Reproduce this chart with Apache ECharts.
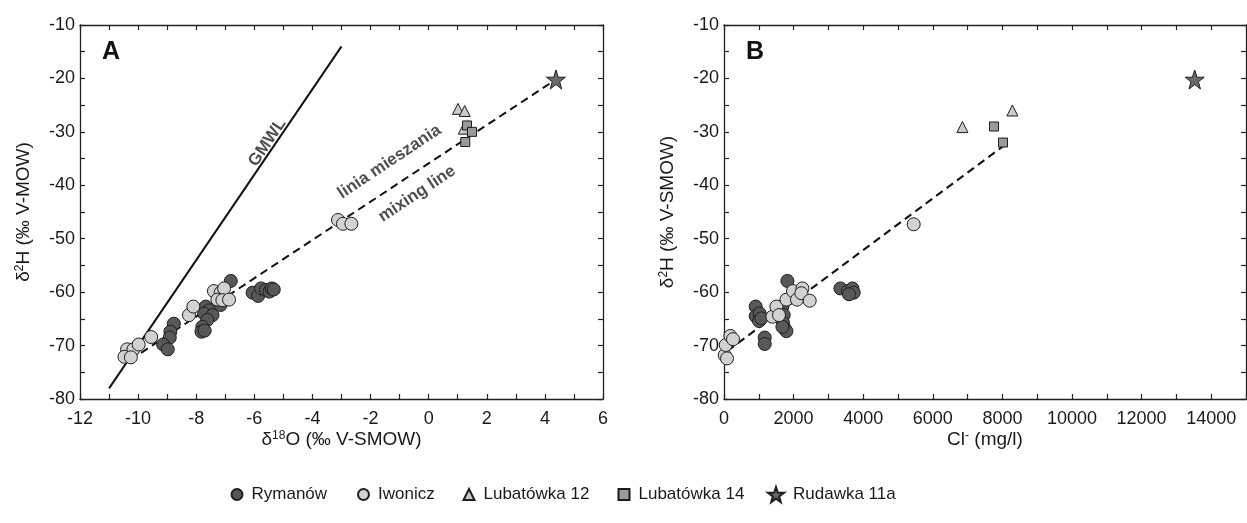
<!DOCTYPE html>
<html>
<head>
<meta charset="utf-8">
<script src="https://cdn.jsdelivr.net/npm/echarts@6/dist/echarts.min.js"></script>
<style>
html,body{margin:0;padding:0;background:#fff;}
#c{width:1247px;height:523px;}
</style>
</head>
<body>
<div id="c"></div>
<script>
// ---- data ----
const rymanowA = [[-8.77,-65.9],[-8.89,-67.4],[-8.91,-68.5],[-9.14,-69.8],[-8.98,-70.7],
  [-7.67,-62.7],[-7.56,-63.4],[-7.73,-64.0],[-7.44,-64.3],[-7.62,-65.2],[-7.79,-66.5],[-7.82,-67.4],[-7.71,-67.2],[-7.16,-62.4],[-6.81,-57.9],
  [-6.06,-60.1],[-5.87,-60.7],[-5.77,-59.3],[-5.6,-59.6],[-5.48,-59.9],[-5.4,-59.3],[-5.33,-59.5]];
const iwoniczA = [[-10.38,-70.7],[-10.16,-70.7],[-10.47,-72.1],[-10.25,-72.2],[-9.98,-69.8],[-9.55,-68.4],
  [-8.25,-64.3],[-8.1,-62.7],[-7.39,-59.8],[-7.16,-60.1],[-7.04,-59.3],[-7.27,-61.4],[-7.1,-61.5],[-6.87,-61.4],
  [-3.12,-46.5],[-2.95,-47.2],[-2.66,-47.2]];
const lub12A = [[1.01,-25.7],[1.24,-26.1],[1.21,-29.4]];
const lub14A = [[1.32,-28.8],[1.49,-30.0],[1.26,-31.9]];
const rudawkaA = [[4.38,-20.2]];
const gmwlLine = [[-11,-78],[-3,-14]];
const mixLineA = [[-10.27,-72.7],[4.38,-20.2]];

const rymanowB = [[911,-62.7],[911,-64.5],[1026,-64.0],[1006,-65.4],[1075,-64.9],[1170,-68.5],[1170,-69.7],
  [1822,-57.9],[1678,-62.7],[1716,-64.3],[1695,-65.7],[1744,-66.8],[1793,-67.3],[1678,-66.5],
  [3345,-59.3],[3563,-59.8],[3690,-59.3],[3727,-60.1],[3592,-60.4]];
const iwoniczB = [[20,-71.8],[86,-72.4],[49,-69.9],[184,-68.2],[259,-68.8],[1391,-64.6],[1506,-62.7],[1580,-64.3],
  [1793,-61.4],[1983,-59.8],[2098,-61.4],[2253,-59.3],[2224,-60.2],[2463,-61.6],[5451,-47.3]];
const lub12B = [[6851,-29.1],[8287,-26.0]];
const lub14B = [[7759,-29.0],[8017,-32.0]];
const rudawkaB = [[13526,-20.2]];
const mixLineB = [[100,-71],[8160,-32]];

const seriesNames = ['Rymanów','Iwonicz','Lubatówka 12','Lubatówka 14','Rudawka 11a'];
const xTicksA = {min:-12, max:6, step:1, labelStep:2};
const xTicksB = {min:0, max:15000, step:1000, labelStep:2000};
const yTicks = {min:-80, max:-10, step:5, labelStep:10};
const annotA = [
  {text:'GMWL', pos:[-5.55,-32.0], rot:56},
  {text:'linia mieszania', pos:[-1.35,-35.6], rot:33.6},
  {text:'mixing line', pos:[-0.4,-41.6], rot:33.6}
];

// ---- styles ----
const FONT = 'Liberation Sans, Arial, sans-serif';
const TXT = '#1a1a1a';
const styles = {
  'Rymanów': {symbol:'circle', size:13, color:'#585858'},
  'Iwonicz': {symbol:'circle', size:13, color:'#d2d2d2'},
  'Lubatówka 12': {symbol:'triangle', size:11, color:'#cacaca'},
  'Lubatówka 14': {symbol:'rect', size:9, color:'#9a9a9a'},
  'Rudawka 11a': {symbol:'path://M50,0 L61.8,35.1 L98.9,35.1 L69.1,57.3 L79.4,92.7 L50,71 L20.6,92.7 L30.9,57.3 L1.1,35.1 L38.2,35.1 Z', size:19, color:'#6a6a6a'}
};

const chart = echarts.init(document.getElementById('c'), null, {renderer:'canvas'});

const nameRich = {n:{fontFamily:FONT, fontSize:19, color:TXT}, s:{fontFamily:FONT, fontSize:12, color:TXT, verticalAlign:'top', lineHeight:12}};

function xAxisDef(gi, t, pos, showLabels, name) {
  return {
    type:'value', gridIndex:gi, position:pos, min:t.min, max:t.max, interval:t.step,
    name: name || '', nameLocation:'middle', nameGap:31, nameMoveOverlap:false,
    nameTextStyle:{fontFamily:FONT, fontSize:19, color:TXT, rich:nameRich},
    axisLine:{show:true, onZero:false, lineStyle:{color:'#222', width:1.3}},
    axisTick:{show:true, inside:true, length:5, lineStyle:{color:'#222', width:1.2}},
    splitLine:{show:false},
    axisLabel:{show:showLabels, interval:0, margin:11, fontFamily:FONT, fontSize:18, color:TXT,
      showMaxLabel:true, showMinLabel:true,
      formatter: v => Math.abs(v) % t.labelStep === 0 ? String(v) : ''}
  };
}
function yAxisDef(gi, t, pos, showLabels, name) {
  return {
    type:'value', gridIndex:gi, position:pos, min:t.min, max:t.max, interval:t.step,
    name: name || '', nameLocation:'middle', nameGap:47, nameRotate:90, nameMoveOverlap:false,
    nameTextStyle:{fontFamily:FONT, fontSize:19, color:TXT, rich:nameRich},
    axisLine:{show:true, onZero:false, lineStyle:{color:'#222', width:1.3}},
    axisTick:{show:true, inside:true, length:5, lineStyle:{color:'#222', width:1.2}},
    splitLine:{show:false},
    axisLabel:{show:showLabels, interval:0, margin:5, fontFamily:FONT, fontSize:18, color:TXT,
      formatter: v => Math.abs(v) % t.labelStep === 0 ? String(v) : ''}
  };
}

function scatter(name, data, xi, yi) {
  const s = styles[name];
  return {
    name, type:'scatter', xAxisIndex:xi, yAxisIndex:yi, data,
    symbol:s.symbol, symbolSize:s.size,
    itemStyle:{color:s.color, borderColor:'#1e1e1e', borderWidth:1, opacity:1},
    emphasis:{disabled:true}, z:3
  };
}
function lineSeries(data, xi, yi, type) {
  return {type:'line', xAxisIndex:xi, yAxisIndex:yi, data, symbol:'none', silent:true,
    lineStyle:{color:'#111', width:2, type: type === 'dashed' ? [8,5] : 'solid'}, z:2};
}
function annotSeries(a, xi, yi) {
  return {type:'scatter', xAxisIndex:xi, yAxisIndex:yi, data:[a.pos], symbolSize:0, silent:true, z:4,
    label:{show:true, position:'inside', rotate:a.rot, formatter:a.text,
      fontFamily:FONT, fontSize:17, fontWeight:'bold', color:'#222'}};
}

const legendLefts = [225.5, 352, 457.5, 612.5, 762];
const legends = seriesNames.map((n,i) => ({
  data:[n], left:legendLefts[i], top:481,
  itemWidth: n==='Rudawka 11a' ? 16 : 11, itemHeight: n==='Rudawka 11a' ? 16 : 11,
  itemGap:0, selectedMode:false,
  textStyle:{fontFamily:FONT, fontSize:17, color:TXT, padding:[0,0,0,4]}
}));

const option = {
  animation:false,
  backgroundColor:'#fff',
  grid:[
    {left:80, right:644, top:25, bottom:124, outerBoundsMode:'none'},
    {left:724, right:1, top:25, bottom:124, outerBoundsMode:'none'}
  ],
  xAxis:[
    xAxisDef(0, xTicksA, 'bottom', true, '{n|δ}{s|18}{n|O (‰ V-SMOW)}'),
    xAxisDef(0, xTicksA, 'top', false),
    xAxisDef(1, xTicksB, 'bottom', true, '{n|Cl}{s|-}{n| (mg/l)}'),
    xAxisDef(1, xTicksB, 'top', false)
  ],
  yAxis:[
    yAxisDef(0, yTicks, 'left', true, '{n|δ}{s|2}{n|H (‰ V-MOW)}'),
    yAxisDef(0, yTicks, 'right', false),
    yAxisDef(1, yTicks, 'left', true, '{n|δ}{s|2}{n|H (‰ V-SMOW)}'),
    yAxisDef(1, yTicks, 'right', false)
  ],
  legend: legends,
  graphic:[
    {type:'text', left:102, top:40, style:{text:'A', font:'bold 25px '+FONT, fill:'#111'}},
    {type:'text', left:746, top:40, style:{text:'B', font:'bold 25px '+FONT, fill:'#111'}}
  ],
  series:[
    lineSeries(gmwlLine, 0, 0, 'solid'),
    lineSeries(mixLineA, 0, 0, 'dashed'),
    lineSeries(mixLineB, 2, 2, 'dashed'),
    scatter('Rymanów', rymanowA, 0, 0),
    scatter('Iwonicz', iwoniczA, 0, 0),
    scatter('Lubatówka 12', lub12A, 0, 0),
    scatter('Lubatówka 14', lub14A, 0, 0),
    scatter('Rudawka 11a', rudawkaA, 0, 0),
    scatter('Rymanów', rymanowB, 2, 2),
    scatter('Iwonicz', iwoniczB, 2, 2),
    scatter('Lubatówka 12', lub12B, 2, 2),
    scatter('Lubatówka 14', lub14B, 2, 2),
    scatter('Rudawka 11a', rudawkaB, 2, 2),
    ...annotA.map(a => annotSeries(a, 0, 0))
  ]
};
chart.setOption(option);
</script>
</body>
</html>
